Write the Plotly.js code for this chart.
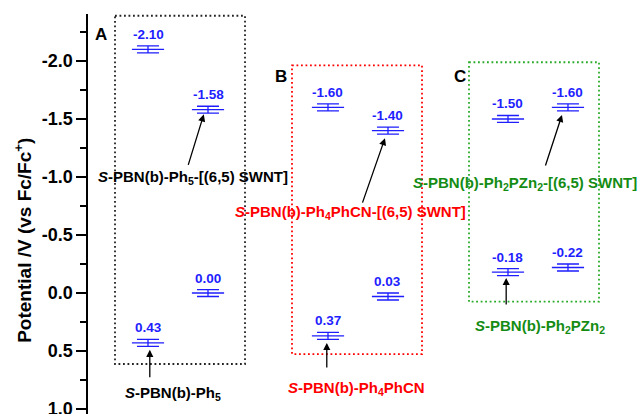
<!DOCTYPE html>
<html>
<head>
<meta charset="utf-8">
<script src="https://cdn.plot.ly/plotly-3.0.1.min.js"></script>
<style>html,body{margin:0;padding:0;background:#fff;overflow:hidden;}#chart{width:644px;height:424px;}</style>
</head>
<body>
<div id="chart"></div>
<script>
// Data: positions of each compound's level (x slot) and potentials (V vs Fc/Fc+)
const xSlots = [1, 2, 4, 5, 7, 8, 1, 2, 4, 5, 7, 8];
const potentials = [-2.10, -1.58, -1.60, -1.40, -1.50, -1.60, 0.43, 0.00, 0.37, 0.03, -0.18, -0.22];
const potentialLabels = ["-2.10", "-1.58", "-1.60", "-1.40", "-1.50", "-1.60", "0.43", "0.00", "0.37", "0.03", "-0.18", "-0.22"];
const errorSize = 0.03;
const tickValues = [-2.0, -1.5, -1.0, -0.5, 0.0, 0.5, 1.0];
const tickLabels = ["-2.0", "-1.5", "-1.0", "-0.5", "0.0", "0.5", "1.0"];
const minorTickValues = [-2.25, -1.75, -1.25, -0.75, -0.25, 0.25, 0.75];
const yTitle = "Potential /V (vs Fc/Fc<sup>+</sup>)";
const panelLetters = ["A", "B", "C"];
const compoundLabels = [
  "<i>S</i>-PBN(b)-Ph<sub>5</sub>-[(6,5) SWNT]",
  "<i>S</i>-PBN(b)-Ph<sub>5</sub>",
  "<i>S</i>-PBN(b)-Ph<sub>4</sub>PhCN-[(6,5) SWNT]",
  "<i>S</i>-PBN(b)-Ph<sub>4</sub>PhCN",
  "<i>S</i>-PBN(b)-Ph<sub>2</sub>PZn<sub>2</sub>-[(6,5) SWNT]",
  "<i>S</i>-PBN(b)-Ph<sub>2</sub>PZn<sub>2</sub>"
];

const FONT = "Arial, 'Liberation Sans', sans-serif";
const BLUE = "rgb(30,30,255)";
const RED = "rgb(255,0,0)";
const GREEN = "rgb(20,140,20)";
const GREEN_BOX = "rgb(40,170,40)";

const trace = {
  x: xSlots, y: potentials, type: "scatter", mode: "markers",
  marker: {symbol: "line-ew", size: 23, color: BLUE, line: {color: BLUE, width: 1.3}},
  error_y: {type: "constant", value: errorSize, color: BLUE, thickness: 1.3, width: 11},
  hoverinfo: "skip", showlegend: false
};

const annotations = [];
potentials.forEach((v, i) => {
  annotations.push({x: xSlots[i], y: v, xref: "x", yref: "y", text: potentialLabels[i],
    showarrow: false, yshift: 15, font: {family: FONT, size: 13.5, color: BLUE, weight: "bold"}});
});
// y-axis title (placed as rotated annotation so it sits where the reference has it)
annotations.push({x: 0, xref: "paper", y: -0.45, yref: "y", xanchor: "center", yanchor: "middle",
  xshift: -65, textangle: -90, text: yTitle, showarrow: false,
  font: {family: FONT, size: 19, color: "black", weight: "bold"}});
// panel letters
const letterPos = [[0.22, -2.225], [3.22, -1.865], [6.2, -1.865]];
panelLetters.forEach((t, i) => {
  annotations.push({x: letterPos[i][0], y: letterPos[i][1], xref: "x", yref: "y", text: t,
    showarrow: false, font: {family: FONT, size: 17, color: "black", weight: "bold"}});
});
// compound labels
const labelPos = [[1.75, -1.0], [1.42, 0.87], [4.37, -0.69], [4.48, 0.82], [7.28, -0.94], [7.53, 0.285]];
const labelColors = ["black", "black", RED, RED, GREEN, GREEN];
compoundLabels.forEach((t, i) => {
  annotations.push({x: labelPos[i][0], y: labelPos[i][1], xref: "x", yref: "y", text: t,
    showarrow: false, font: {family: FONT, size: 15, color: labelColors[i], weight: "bold"}});
});
// arrows (tip, tail offset in px)
const arrows = [[1.93, -1.54, -16, 52], [1.03, 0.49, 0, 29], [4.95, -1.335, -23, 66],
                [3.98, 0.43, 0, 26], [7.9, -1.535, -17, 52], [6.97, -0.13, 0, 28]];
arrows.forEach(a => {
  annotations.push({x: a[0], y: a[1], xref: "x", yref: "y", ax: a[2], ay: a[3], text: "",
    showarrow: true, arrowhead: 2, arrowsize: 1.1, arrowwidth: 1.3, arrowcolor: "black"});
});

const dotted = c => ({color: c, width: 1.8, dash: "1.8px,2.7px"});
const shapes = [
  {type: "rect", xref: "x", yref: "y", x0: 0.45, x1: 2.617, y0: -2.39, y1: 0.612, line: dotted("#222")},
  {type: "rect", xref: "x", yref: "y", x0: 3.4, x1: 5.567, y0: -1.963, y1: 0.526, line: dotted(RED)},
  {type: "rect", xref: "x", yref: "y", x0: 6.35, x1: 8.517, y0: -1.989, y1: 0.075, line: dotted(GREEN_BOX)}
];

const layout = {
  width: 644, height: 424,
  margin: {l: 88, r: 0, t: 14, b: 0, pad: 0},
  paper_bgcolor: "white", plot_bgcolor: "white",
  showlegend: false,
  xaxis: {range: [0, 9.267], visible: false, fixedrange: true},
  yaxis: {
    range: [1.129, -2.405], showgrid: false, zeroline: false,
    showline: true, linecolor: "black", linewidth: 1.6,
    ticks: "outside", ticklen: 10, tickwidth: 1.6, tickcolor: "black",
    tickmode: "array", tickvals: tickValues, ticktext: tickLabels,
    tickfont: {family: FONT, size: 18, color: "black", weight: "bold"},
    minor: {tickmode: "array", tickvals: minorTickValues, ticks: "outside", ticklen: 6, tickwidth: 1.6, tickcolor: "black"},
    automargin: false
  },
  annotations: annotations,
  shapes: shapes
};

Plotly.newPlot("chart", [trace], layout, {staticPlot: true, displayModeBar: false});
</script>
</body>
</html>
